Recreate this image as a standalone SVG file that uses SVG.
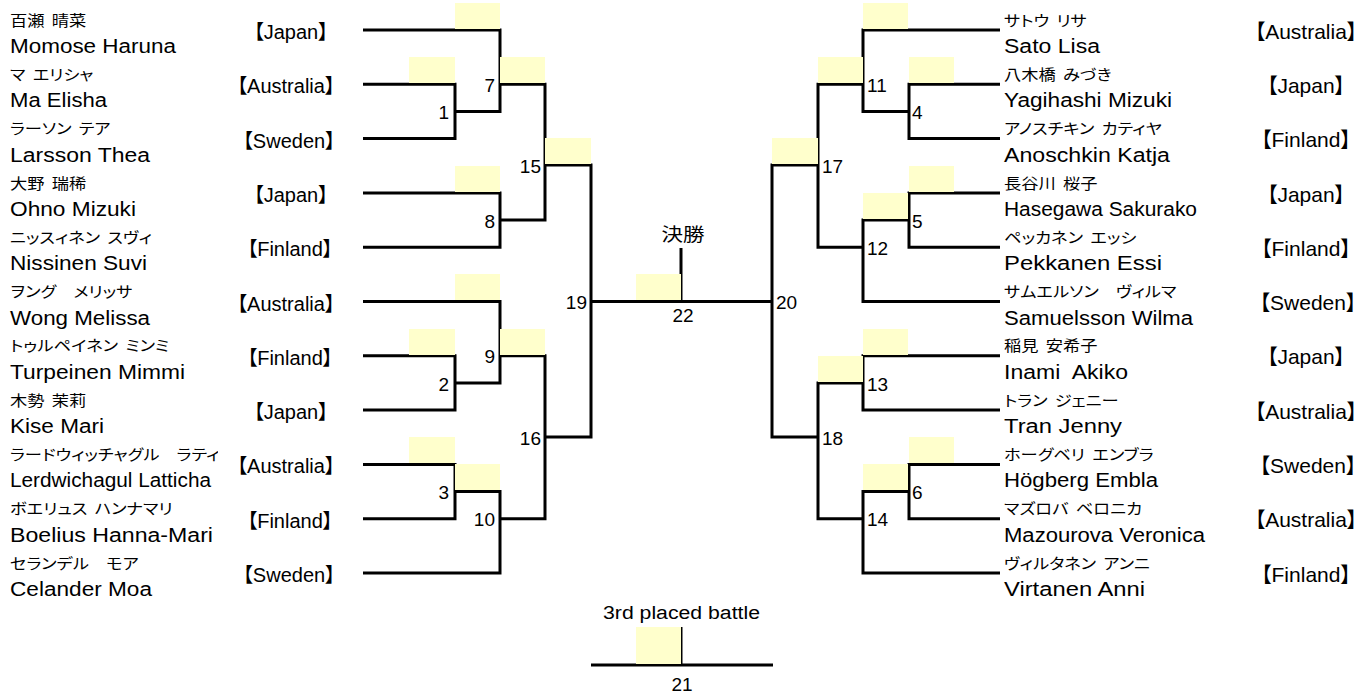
<svg xmlns="http://www.w3.org/2000/svg" width="1365" height="693" viewBox="0 0 1365 693">
<style>
.ln{stroke:#000;stroke-width:3;fill:none;stroke-linejoin:miter}
.yb{fill:#FFFFCC}
.kana{font-family:"Noto Sans CJK JP",sans-serif;font-size:15px;fill:#000;word-spacing:3px;font-feature-settings:"palt";white-space:pre}
.en{font-family:"Liberation Sans",sans-serif;font-size:20px;fill:#000;white-space:pre}
.ct{font-family:"Liberation Sans","Noto Sans CJK JP",sans-serif;font-size:20px;fill:#000;text-anchor:middle;font-feature-settings:"palt"}
.ctr{font-size:21px}
.num{font-family:"Liberation Sans",sans-serif;font-size:19px;fill:#000}
.r{text-anchor:end}
.c{text-anchor:middle}
.ttl{font-family:"Liberation Sans","Noto Sans CJK JP",sans-serif;font-size:18px;fill:#000;text-anchor:middle}
</style>
<defs>
<clipPath id="clipL9"><rect x="0" y="430" width="218" height="40"/></clipPath>
</defs>
<rect width="1365" height="693" fill="#fff"/>

<!-- left players -->
<g id="p-momose"><text class="kana" transform="translate(10,25.5) scale(1.15,1)">百瀬 晴菜</text><text class="en" x="10" y="53" textLength="166" lengthAdjust="spacingAndGlyphs">Momose Haruna</text><text class="ct" x="291" y="39">【Japan】</text></g>
<g id="p-ma"><text class="kana" transform="translate(10,79.8) scale(1.15,1)">マ エリシャ</text><text class="en" x="10" y="107.3" textLength="97" lengthAdjust="spacingAndGlyphs">Ma Elisha</text><text class="ct" x="286" y="93.3">【Australia】</text></g>
<g id="p-larsson"><text class="kana" transform="translate(10,134.1) scale(1.15,1)">ラーソン テア</text><text class="en" x="10" y="161.6" textLength="140" lengthAdjust="spacingAndGlyphs">Larsson Thea</text><text class="ct" x="289" y="147.6">【Sweden】</text></g>
<g id="p-ohno"><text class="kana" transform="translate(10,188.5) scale(1.15,1)">大野 瑞稀</text><text class="en" x="10" y="216" textLength="126" lengthAdjust="spacingAndGlyphs">Ohno Mizuki</text><text class="ct" x="291" y="202">【Japan】</text></g>
<g id="p-nissinen"><text class="kana" transform="translate(10,242.7) scale(1.15,1)">ニッスィネン スヴィ</text><text class="en" x="10" y="270.2" textLength="137" lengthAdjust="spacingAndGlyphs">Nissinen Suvi</text><text class="ct" x="290" y="256.2">【Finland】</text></g>
<g id="p-wong"><text class="kana" transform="translate(10,297) scale(1.15,1)">ヲング　メリッサ</text><text class="en" x="10" y="324.5" textLength="140" lengthAdjust="spacingAndGlyphs">Wong Melissa</text><text class="ct" x="286" y="310.5">【Australia】</text></g>
<g id="p-turpeinen"><text class="kana" transform="translate(10,351.3) scale(1.15,1)">トゥルペイネン ミンミ</text><text class="en" x="10" y="378.8" textLength="175" lengthAdjust="spacingAndGlyphs">Turpeinen Mimmi</text><text class="ct" x="290" y="364.8">【Finland】</text></g>
<g id="p-kise"><text class="kana" transform="translate(10,405.5) scale(1.15,1)">木勢 茉莉</text><text class="en" x="10" y="433" textLength="94" lengthAdjust="spacingAndGlyphs">Kise Mari</text><text class="ct" x="291" y="419">【Japan】</text></g>
<g id="p-lerdwichagul"><g clip-path="url(#clipL9)"><text class="kana" transform="translate(10,459.9) scale(1.15,1)">ラードウィッチャグル　ラティ</text></g><text class="en" x="10" y="487.4" textLength="201" lengthAdjust="spacingAndGlyphs">Lerdwichagul Latticha</text><text class="ct" x="286" y="473.4">【Australia】</text></g>
<g id="p-boelius"><text class="kana" transform="translate(10,514.2) scale(1.15,1)">ボエリュス ハンナマリ</text><text class="en" x="10" y="541.7" textLength="203" lengthAdjust="spacingAndGlyphs">Boelius Hanna-Mari</text><text class="ct" x="290" y="527.7">【Finland】</text></g>
<g id="p-celander"><text class="kana" transform="translate(10,568.5) scale(1.15,1)">セランデル　モア</text><text class="en" x="10" y="596" textLength="142" lengthAdjust="spacingAndGlyphs">Celander Moa</text><text class="ct" x="289" y="582">【Sweden】</text></g>

<!-- right players -->
<g id="p-sato"><text class="kana" transform="translate(1004,25.5) scale(1.15,1)">サトウ リサ</text><text class="en" x="1004" y="53" textLength="96" lengthAdjust="spacingAndGlyphs">Sato Lisa</text><text class="ct ctr" x="1306" y="38.5">【Australia】</text></g>
<g id="p-yagihashi"><text class="kana" transform="translate(1004,79.8) scale(1.15,1)">八木橋 みづき</text><text class="en" x="1004" y="107.3" textLength="168" lengthAdjust="spacingAndGlyphs">Yagihashi Mizuki</text><text class="ct ctr" x="1306" y="92.8">【Japan】</text></g>
<g id="p-anoschkin"><text class="kana" transform="translate(1004,134.1) scale(1.15,1)">アノスチキン カティヤ</text><text class="en" x="1004" y="161.6" textLength="166" lengthAdjust="spacingAndGlyphs">Anoschkin Katja</text><text class="ct ctr" x="1306" y="147.1">【Finland】</text></g>
<g id="p-hasegawa"><text class="kana" transform="translate(1004,188.5) scale(1.15,1)">長谷川 桜子</text><text class="en" x="1004" y="216" textLength="193" lengthAdjust="spacingAndGlyphs">Hasegawa Sakurako</text><text class="ct ctr" x="1306" y="201.5">【Japan】</text></g>
<g id="p-pekkanen"><text class="kana" transform="translate(1004,242.7) scale(1.15,1)">ペッカネン エッシ</text><text class="en" x="1004" y="270.2" textLength="158" lengthAdjust="spacingAndGlyphs">Pekkanen Essi</text><text class="ct ctr" x="1306" y="255.7">【Finland】</text></g>
<g id="p-samuelsson"><text class="kana" transform="translate(1004,297) scale(1.15,1)">サムエルソン　ヴィルマ</text><text class="en" x="1004" y="324.5" textLength="189" lengthAdjust="spacingAndGlyphs">Samuelsson Wilma</text><text class="ct ctr" x="1308" y="310">【Sweden】</text></g>
<g id="p-inami"><text class="kana" transform="translate(1004,351.3) scale(1.15,1)">稲見 安希子</text><text class="en" x="1004" y="378.8" textLength="124" lengthAdjust="spacingAndGlyphs">Inami  Akiko</text><text class="ct ctr" x="1306" y="364.3">【Japan】</text></g>
<g id="p-tran"><text class="kana" transform="translate(1004,405.5) scale(1.15,1)">トラン ジェニー</text><text class="en" x="1004" y="433" textLength="118" lengthAdjust="spacingAndGlyphs">Tran Jenny</text><text class="ct ctr" x="1306" y="418.5">【Australia】</text></g>
<g id="p-hogberg"><text class="kana" transform="translate(1004,459.9) scale(1.15,1)">ホーグベリ エンブラ</text><text class="en" x="1004" y="487.4" textLength="154" lengthAdjust="spacingAndGlyphs">Högberg Embla</text><text class="ct ctr" x="1308" y="472.9">【Sweden】</text></g>
<g id="p-mazourova"><text class="kana" transform="translate(1004,514.2) scale(1.15,1)">マズロバ ベロニカ</text><text class="en" x="1004" y="541.7" textLength="201" lengthAdjust="spacingAndGlyphs">Mazourova Veronica</text><text class="ct ctr" x="1306" y="527.2">【Australia】</text></g>
<g id="p-virtanen"><text class="kana" transform="translate(1004,568.5) scale(1.15,1)">ヴィルタネン アンニ</text><text class="en" x="1004" y="596" textLength="141" lengthAdjust="spacingAndGlyphs">Virtanen Anni</text><text class="ct ctr" x="1306" y="581.5">【Finland】</text></g>

<!-- connectors -->
<g id="connectors" class="ln">
<path d="M363,30 H500 V111.5 H455"/>
<path d="M363,84.3 H455 V138.6 H363"/>
<path d="M500,84.3 H545 V220 H500"/>
<path d="M363,193 H500 V247.2 H363"/>
<path d="M545,165 H591 V437 H545"/>
<path d="M363,301.5 H500 V383 H455"/>
<path d="M363,355.8 H455 V410 H363"/>
<path d="M500,355.8 H545 V518.7 H500"/>
<path d="M363,464.4 H455 V518.7 H363"/>
<path d="M455,491.5 H500 V573 H363"/>
<path d="M591,301.5 H772"/>
<path d="M681,248 V301.5"/>
<path d="M1000,30 H863 V111.5 H909"/>
<path d="M1000,84.3 H909 V138.6 H1000"/>
<path d="M863,84.3 H818 V247.2 H863"/>
<path d="M1000,193 H909 V247.2 H1000"/>
<path d="M909,220 H863 V301.5 H1000"/>
<path d="M818,165 H772 V437 H818"/>
<path d="M1000,355.8 H863 V410 H1000"/>
<path d="M863,383 H818 V518.7 H863"/>
<path d="M1000,464.4 H909 V518.7 H1000"/>
<path d="M909,491.5 H863 V573 H1000"/>
<path d="M591,665 H773"/>
<path d="M681,627 V665"/>
</g>

<!-- matches -->
<g id="m1"><rect class="yb" x="409" y="57" width="46" height="26"/><text class="num r" x="449" y="119">1</text></g>
<g id="m2"><rect class="yb" x="409" y="329" width="46" height="26"/><text class="num r" x="449" y="390.5">2</text></g>
<g id="m3"><rect class="yb" x="409" y="437" width="46" height="26"/><text class="num r" x="449" y="499">3</text></g>
<g id="m7"><rect class="yb" x="455" y="3" width="45" height="26"/><text class="num r" x="495" y="91.8">7</text></g>
<g id="m8"><rect class="yb" x="455" y="166" width="45" height="26"/><text class="num r" x="495" y="227.5">8</text></g>
<g id="m9"><rect class="yb" x="455" y="274" width="45" height="26"/><text class="num r" x="495" y="363.3">9</text></g>
<g id="m10"><rect class="yb" x="455" y="464" width="45" height="26"/><text class="num r" x="495" y="526.2">10</text></g>
<g id="m15"><rect class="yb" x="500" y="57" width="45" height="26"/><text class="num r" x="541" y="172.5">15</text></g>
<g id="m16"><rect class="yb" x="500" y="329" width="45" height="26"/><text class="num r" x="541" y="444.5">16</text></g>
<g id="m19"><rect class="yb" x="545" y="138" width="46" height="26"/><text class="num r" x="587" y="309">19</text></g>
<g id="m22"><rect class="yb" x="636" y="274" width="45" height="26"/><text class="ttl" x="683" y="241" textLength="43" lengthAdjust="spacingAndGlyphs">決勝</text><text class="num c" x="683" y="322">22</text></g>
<g id="m21"><rect class="yb" x="636" y="627" width="45" height="37"/><text class="ttl" x="681.5" y="619" textLength="157" lengthAdjust="spacingAndGlyphs">3rd placed battle</text><text class="num c" x="682" y="691">21</text></g>
<g id="m20"><rect class="yb" x="772" y="138" width="46" height="26"/><text class="num" x="776" y="309">20</text></g>
<g id="m17"><rect class="yb" x="818" y="57" width="45" height="26"/><text class="num" x="822" y="172.5">17</text></g>
<g id="m18"><rect class="yb" x="818" y="356" width="45" height="26"/><text class="num" x="822" y="444.5">18</text></g>
<g id="m11"><rect class="yb" x="863" y="3" width="45" height="26"/><text class="num" x="867" y="91.8">11</text></g>
<g id="m12"><rect class="yb" x="863" y="193" width="45" height="26"/><text class="num" x="867" y="254.7">12</text></g>
<g id="m13"><rect class="yb" x="863" y="329" width="45" height="26"/><text class="num" x="867" y="390.5">13</text></g>
<g id="m14"><rect class="yb" x="863" y="464" width="45" height="26"/><text class="num" x="867" y="526.2">14</text></g>
<g id="m4"><rect class="yb" x="909" y="57" width="45" height="26"/><text class="num" x="912" y="119">4</text></g>
<g id="m5"><rect class="yb" x="909" y="166" width="45" height="26"/><text class="num" x="912" y="227.5">5</text></g>
<g id="m6"><rect class="yb" x="909" y="437" width="45" height="26"/><text class="num" x="912" y="499">6</text></g>
</svg>
